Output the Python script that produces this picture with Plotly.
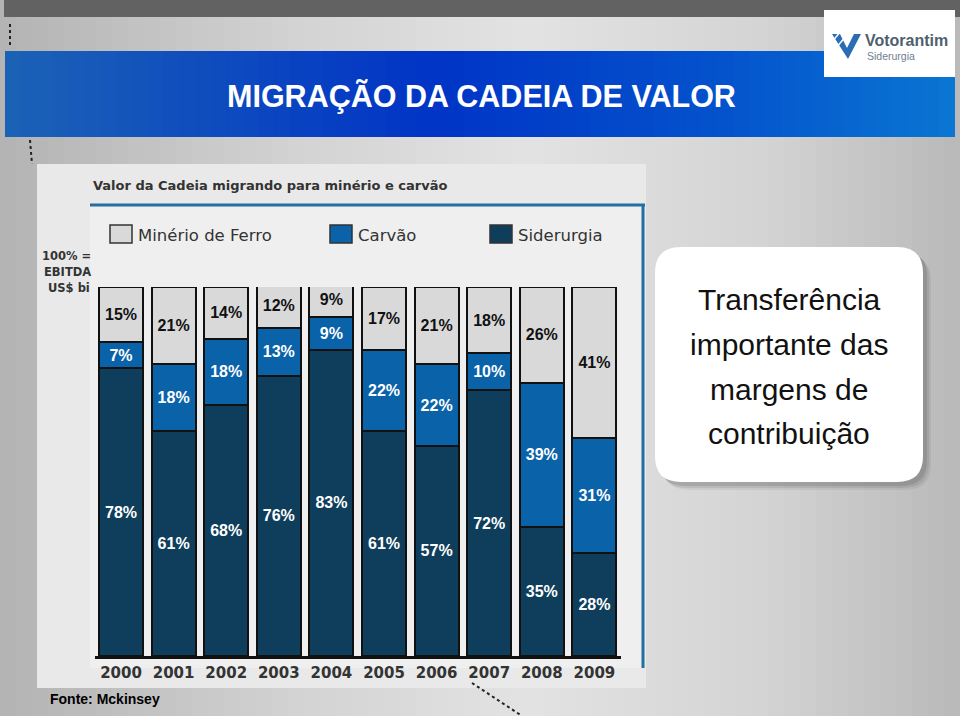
import plotly.graph_objects as go

# ---------------- data ----------------
years = ['2000', '2001', '2002', '2003', '2004', '2005', '2006', '2007', '2008', '2009']
siderurgia = [78, 61, 68, 76, 83, 61, 57, 72, 35, 28]
carvao = [7, 18, 18, 13, 9, 22, 22, 10, 39, 31]
minerio = [15, 21, 14, 12, 9, 17, 21, 18, 26, 41]
ebitda_totals = [38, 29, 40, 65, 158, 210, 170, 228, 404, 103]
series_names = ['Minério de Ferro', 'Carvão', 'Siderurgia']

# ---------------- styling ----------------
W, H = 960, 716
C_MIN = '#d9d9d9'
C_CAR = '#0a62a9'
C_SID = '#0e3e5b'
C_FRAME = '#2270a2'
F_TAHOMA = 'DejaVu Sans'
F_ARIAL = 'Liberation Sans, Arial, sans-serif'


def X(px):
    return px / W


def Y(py):
    return 1 - py / H


def hex2rgb(h):
    h = h.lstrip('#')
    return tuple(int(h[i:i + 2], 16) for i in (0, 2, 4))


def interp(stops, t):
    for (t0, c0), (t1, c1) in zip(stops[:-1], stops[1:]):
        if t0 <= t <= t1:
            f = 0 if t1 == t0 else (t - t0) / (t1 - t0)
            a, b = hex2rgb(c0), hex2rgb(c1)
            return 'rgb(%d,%d,%d)' % tuple(round(a[i] + (b[i] - a[i]) * f) for i in range(3))
    return stops[-1][1]


shapes = []


def rect(x0, y0, x1, y1, fill, line=None, lw=0):
    shapes.append(dict(type='rect', xref='paper', yref='paper', layer='below',
                       x0=X(x0), x1=X(x1), y0=Y(y1), y1=Y(y0), fillcolor=fill,
                       line=dict(width=lw, color=line or fill)))


def gradient_band(x0, y0, x1, y1, stops, n=60):
    step = (x1 - x0) / n
    for i in range(n):
        a = x0 + i * step
        c = interp(stops, (i + 0.5) / n)
        rect(a, y0, min(a + step + 1, x1), y1, c)


def rr_path(x0, y0, x1, y1, r):
    pts = [('M', [(x0 + r, y0)]), ('L', [(x1 - r, y0)]), ('Q', [(x1, y0), (x1, y0 + r)]),
           ('L', [(x1, y1 - r)]), ('Q', [(x1, y1), (x1 - r, y1)]), ('L', [(x0 + r, y1)]),
           ('Q', [(x0, y1), (x0, y1 - r)]), ('L', [(x0, y0 + r)]), ('Q', [(x0, y0), (x0 + r, y0)])]
    s = ''
    for cmd, ps in pts:
        s += cmd + ' ' + ' '.join('%.5f,%.5f' % (X(px), Y(py)) for px, py in ps) + ' '
    return s + 'Z'


def poly_path(points):
    return 'M ' + ' L '.join('%.5f,%.5f' % (X(px), Y(py)) for px, py in points) + ' Z'


# slide background
gradient_band(0, 0, W, H, [(0, '#b3b3b3'), (0.3, '#d2d2d2'), (0.55, '#e3e3e3'),
                           (0.8, '#d3d3d3'), (1, '#b9b9b9')])
# dark top bar
rect(4, 0, W, 17, '#626262')
# blue title bar
gradient_band(5, 51, 955, 137, [(0, '#1c62b6'), (0.45, '#0034c6'), (0.75, '#0452cc'),
                                (1, '#0a76d2')])
# logo box
rect(824, 10, 955, 77, '#ffffff')
shapes.append(dict(type='path', xref='paper', yref='paper', layer='below',
                   path=poly_path([(832, 34), (840, 34), (847, 48), (854, 34), (861, 34), (848, 59)]),
                   fillcolor='#2a6db4', line=dict(width=0)))
for sx in (835, 840):
    shapes.append(dict(type='line', xref='paper', yref='paper', layer='below',
                       x0=X(sx - 4), y0=Y(sx - 792), x1=X(sx + 6), y1=Y(sx - 804),
                       line=dict(color='#ffffff', width=1.5)))

# chart panel
rect(37, 164, 646, 688, '#e9e9e9')
rect(90, 205, 643, 668, '#efefef')
# frame lines
shapes.append(dict(type='line', xref='paper', yref='paper', layer='below',
                   x0=X(90), x1=X(645), y0=Y(205), y1=Y(205),
                   line=dict(color=C_FRAME, width=3)))
shapes.append(dict(type='line', xref='paper', yref='paper', layer='below',
                   x0=X(643), x1=X(643), y0=Y(205), y1=Y(668),
                   line=dict(color=C_FRAME, width=3)))

# legend boxes
for (lx, col) in zip((110, 330, 490), (C_MIN, C_CAR, C_SID)):
    rect(lx, 225, lx + 22, 243, col, line='#333333', lw=1.5)

# decorative dotted lines
for (ax0, ay0, ax1, ay1) in ((10, 24, 10, 48), (30, 140, 32, 164), (472, 683, 522, 716)):
    shapes.append(dict(type='line', xref='paper', yref='paper', layer='below',
                       x0=X(ax0), y0=Y(ay0), x1=X(ax1), y1=Y(ay1),
                       line=dict(color='#222222', width=2, dash='dot')))

# text box with shadow
for off, alpha in ((8, 0.06), (6, 0.08), (4, 0.10)):
    shapes.append(dict(type='path', xref='paper', yref='paper', layer='below',
                       path=rr_path(655 + off, 247 + off, 923 + off, 482 + off, 26),
                       fillcolor='rgba(0,0,0,%.2f)' % alpha, line=dict(width=0)))
shapes.append(dict(type='path', xref='paper', yref='paper', layer='below',
                   path=rr_path(655, 247, 923, 482, 26),
                   fillcolor='#ffffff', line=dict(width=0)))

# ---------------- bars ----------------
fig = go.Figure()
for name, vals, col, tcol in ((series_names[2], siderurgia, C_SID, '#ffffff'),
                              (series_names[1], carvao, C_CAR, '#ffffff'),
                              (series_names[0], minerio, C_MIN, '#111111')):
    fig.add_trace(go.Bar(
        x=years, y=vals, name=name, width=0.84,
        marker=dict(color=col, line=dict(color='#111111', width=2)),
        texttemplate='%{y}%', textposition='inside', insidetextanchor='middle',
        textangle=0, constraintext='none',
        textfont=dict(family=F_ARIAL, size=16, color=tcol, weight='bold'),
        showlegend=False, hoverinfo='x+y+name'))

annotations = []


def txt(text, x, y, size, color='#333333', family=F_TAHOMA, weight='normal',
        xanchor='left', yanchor='middle'):
    annotations.append(dict(text=text, x=X(x), y=Y(y), xref='paper', yref='paper',
                            showarrow=False, xanchor=xanchor, yanchor=yanchor,
                            font=dict(family=family, size=size, color=color, weight=weight)))


# totals above bars
for yr, tot in zip(years, ebitda_totals):
    annotations.append(dict(text=str(tot), x=yr, y=Y(272), xref='x', yref='paper',
                            showarrow=False, xanchor='center', yanchor='middle',
                            font=dict(family=F_TAHOMA, size=15, color='#333333', weight='bold')))

txt('MIGRAÇÃO DA CADEIA DE VALOR', 481, 97, 30.5, '#ffffff', F_ARIAL, 'bold', 'center')
txt('Votorantim', 863, 41, 16, '#4f5f70', F_ARIAL, 'bold')
txt('Siderurgia', 865, 56, 10.5, '#6e7e8e', F_ARIAL)
txt('Valor da Cadeia migrando para minério e carvão', 91, 186, 13, '#333333', F_TAHOMA, 'bold')
for lx, name in zip((136, 356, 516), series_names):
    txt(name, lx, 235, 16.5, '#333333')
txt('100% =', 93, 256, 11.5, '#333333', F_TAHOMA, 'bold', 'right')
txt('EBITDA', 93, 272, 11.5, '#333333', F_TAHOMA, 'bold', 'right')
txt('US$ bi', 92, 288, 11.5, '#333333', F_TAHOMA, 'bold', 'right')
for ly, line in zip((300, 344, 389, 433),
                    ('Transferência', 'importante das', 'margens de', 'contribuição')):
    txt(line, 789, ly, 30, '#111111', F_ARIAL, 'normal', 'center')
txt('Fonte: Mckinsey', 48, 699, 14, '#000000', F_ARIAL, 'bold')

fig.update_layout(
    width=W, height=H, autosize=False,
    margin=dict(l=0, r=0, t=0, b=0, pad=0),
    paper_bgcolor='#d0d0d0', plot_bgcolor='rgba(0,0,0,0)',
    barmode='stack', bargap=0.16, showlegend=False,
    shapes=shapes, annotations=annotations,
    xaxis=dict(domain=[X(94.7), X(620.7)], type='category', range=[-0.5, 9.5],
               showline=True, linecolor='#111111', linewidth=3, ticks='',
               showgrid=False, zeroline=False, ticklabelstandoff=1,
               tickfont=dict(family=F_TAHOMA, size=15, color='#333333', weight='bold')),
    yaxis=dict(domain=[Y(656), Y(287)], range=[0, 100], visible=False,
               showgrid=False, zeroline=False),
)

fig.write_html('out.html', config={'displayModeBar': False},
               post_script="document.body.style.margin='0';document.body.style.overflow='hidden';")
